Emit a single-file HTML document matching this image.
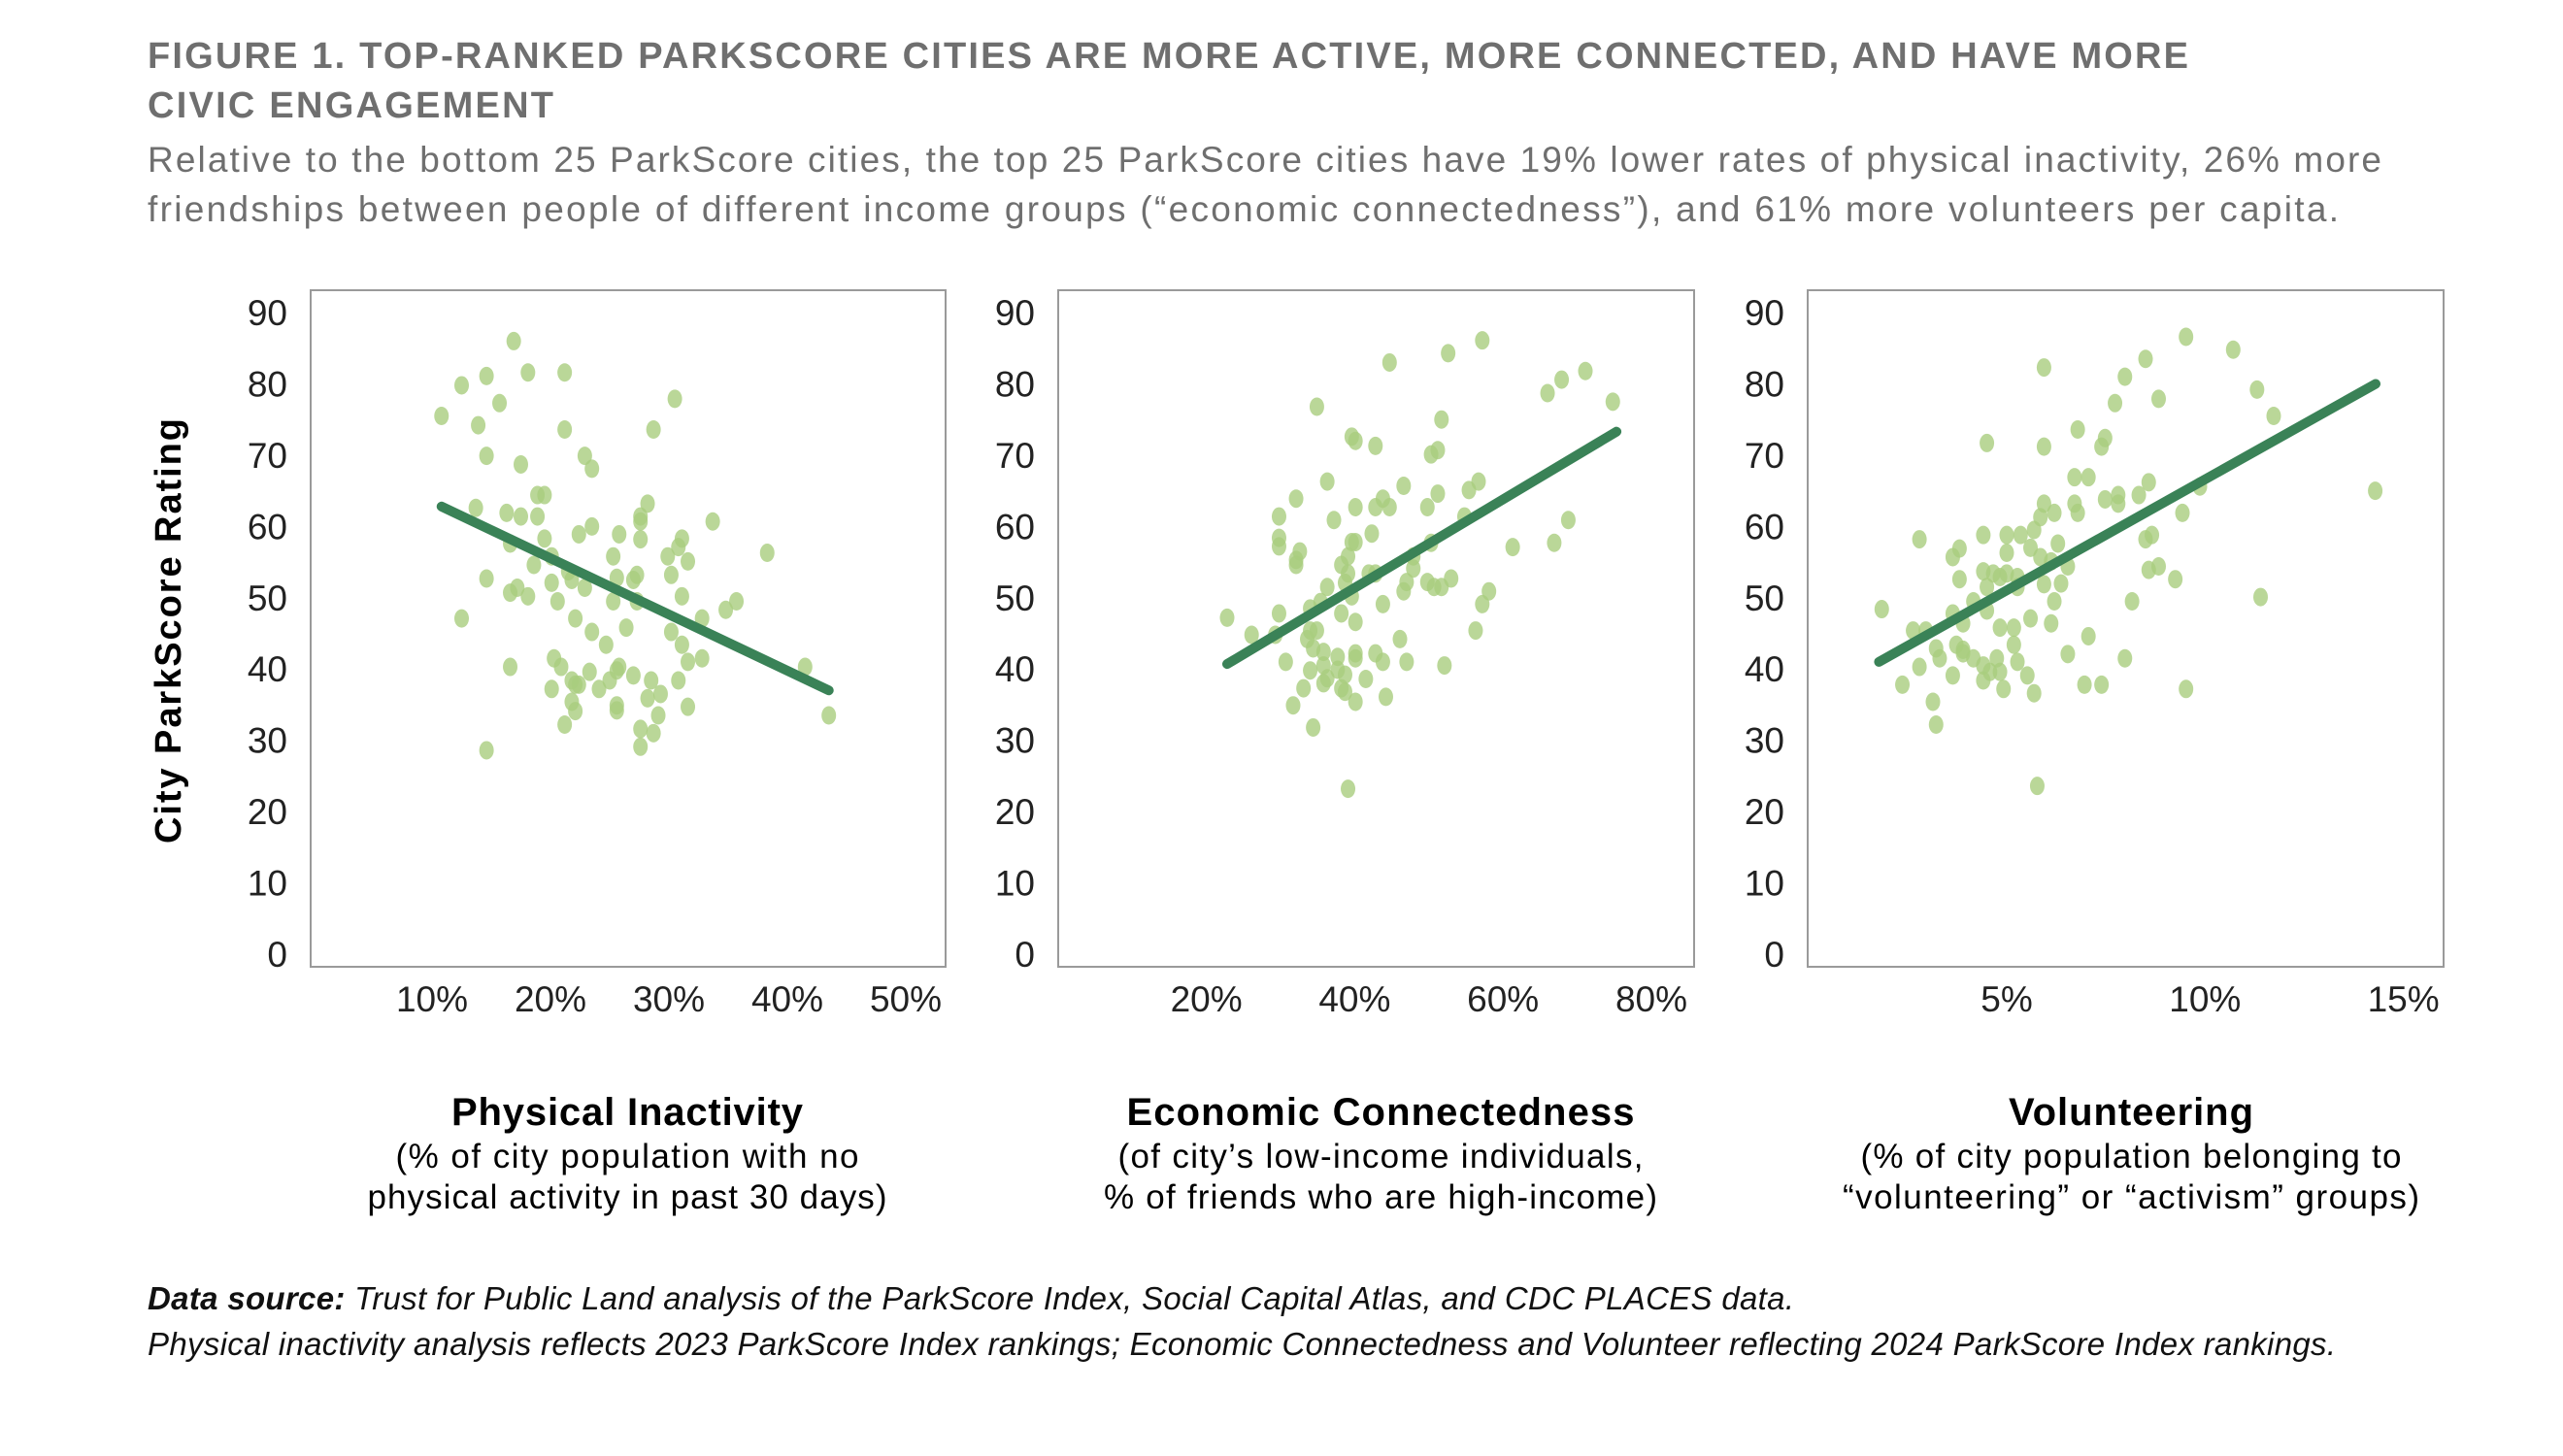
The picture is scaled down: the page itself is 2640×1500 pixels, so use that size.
<!DOCTYPE html>
<html><head><meta charset="utf-8"><style>
html,body{margin:0;padding:0;background:#fff;}
svg{display:block;font-family:"Liberation Sans",Arial,sans-serif;}
</style></head><body>
<svg id="chart" width="2640" height="1500" viewBox="0 0 2640 1500">
<g>
<text x="152" y="70" font-size="38" font-weight="bold" fill="#6f6f6f" textLength="2102">FIGURE 1. TOP-RANKED PARKSCORE CITIES ARE MORE ACTIVE, MORE CONNECTED, AND HAVE MORE</text>
<text x="152" y="121" font-size="38" font-weight="bold" fill="#6f6f6f" textLength="418">CIVIC ENGAGEMENT</text>
<text x="152" y="177" font-size="37" fill="#6f6f6f" textLength="2301">Relative to the bottom 25 ParkScore cities, the top 25 ParkScore cities have 19% lower rates of physical inactivity, 26% more</text>
<text x="152" y="228" font-size="37" fill="#6f6f6f" textLength="2257">friendships between people of different income groups (“economic connectedness”), and 61% more volunteers per capita.</text>
</g>
<text transform="translate(186,650) rotate(-90)" text-anchor="middle" font-size="38" font-weight="bold" fill="#000" textLength="438">City ParkScore Rating</text>
<g id="panels"></g>
<g>
<text x="152" y="1349" font-size="33" font-style="italic" fill="#111" textLength="1696"><tspan font-weight="bold">Data source:</tspan> Trust for Public Land analysis of the ParkScore Index, Social Capital Atlas, and CDC PLACES data.</text>
<text x="152" y="1396" font-size="33" font-style="italic" fill="#111" textLength="2254">Physical inactivity analysis reflects 2023 ParkScore Index rankings; Economic Connectedness and Volunteer reflecting 2024 ParkScore Index rankings.</text>
</g>
</svg>
<script>
// Panel 1: Physical inactivity (%)
const p1X = [10.8,12.5,14.6,16.9,18.1,21.2,15.7,13.9,21.2,30.5,28.7,14.6,17.5,22.9,23.5,18.9,19.5,13.7,16.3,17.5,18.9,28.2,27.6,27.6,23.5,22.4,25.8,27.6,19.5,16.6,33.7,31.1,30.8,29.9,25.3,31.6,38.3,20.1,18.6,21.5,21.8,22.9,25.6,27.3,27.0,30.2,20.1,17.2,16.6,18.1,20.6,25.3,27.3,31.1,35.7,34.8,14.6,12.5,22.1,32.8,26.4,23.5,30.2,31.1,24.7,20.3,20.9,16.6,31.6,32.8,41.5,25.8,25.6,23.3,27.0,21.8,22.1,22.4,25.0,28.5,30.8,20.1,24.1,28.2,29.3,21.8,22.1,25.6,25.6,31.6,29.1,21.2,27.6,28.7,27.6,14.6,43.5];
const p1Y = [75.5,79.8,81.1,86.0,81.6,81.6,77.3,74.2,73.6,77.9,73.6,69.9,68.7,69.9,68.1,64.4,64.4,62.6,61.9,61.4,61.4,63.2,61.4,60.7,60.0,58.9,58.9,58.2,58.3,57.6,60.7,58.3,57.1,55.8,55.8,55.1,56.3,55.8,54.6,53.7,52.5,51.4,52.8,53.2,52.5,53.2,52.1,51.4,50.7,50.2,49.5,49.5,49.5,50.2,49.5,48.3,52.7,47.1,47.1,47.1,45.8,45.2,45.2,43.4,43.4,41.5,40.3,40.3,41.0,41.5,40.3,40.3,39.8,39.6,39.1,38.4,37.8,37.8,38.4,38.4,38.4,37.2,37.2,35.9,36.5,35.4,34.1,34.9,34.2,34.7,33.5,32.2,31.6,31.0,29.1,28.6,33.5];
const p1Trend = [[10.8,62.8],[43.5,37.0]];
const p1Ticks = ["10%","20%","30%","40%","50%"];
const p1TickVals = [10,20,30,40,50];

// Panel 2: Economic connectedness (%)
const p2X = [22.8,26.1,29.3,29.8,29.8,29.8,32.1,32.6,32.1,32.1,34.9,36.3,37.2,36.3,34.0,35.4,29.8,30.7,33.1,31.7,34.4,33.6,34.4,34.0,34.9,35.8,35.8,36.3,35.8,34.0,37.7,37.7,38.2,38.2,38.7,39.1,39.1,39.6,40.1,39.6,40.1,40.1,39.1,39.6,40.1,40.1,40.1,38.2,38.7,38.7,40.1,41.5,42.3,41.9,42.8,42.8,42.8,43.8,44.7,44.7,43.8,42.8,43.8,44.2,46.1,47.0,46.6,47.0,47.9,47.9,46.6,49.8,50.3,51.2,51.7,51.2,49.8,50.7,51.7,53.0,52.1,50.3,52.6,54.8,55.4,56.7,57.2,56.3,57.2,58.1,61.3,66.0,67.9,71.1,74.8,66.9,68.8];
const p2Y = [47.2,44.8,44.8,61.4,58.4,57.2,63.9,56.5,55.3,54.6,76.8,66.3,60.9,51.5,48.5,49.4,47.8,41.0,37.3,34.9,31.8,44.2,42.9,45.4,45.4,42.4,40.5,38.7,38.0,39.8,41.7,39.9,47.8,54.6,52.1,53.4,55.8,57.8,57.8,72.6,72.0,62.7,23.2,50.2,46.6,42.2,41.5,37.3,39.2,36.8,35.4,38.6,59.0,53.4,53.4,62.7,71.3,63.9,62.7,83.0,49.1,42.2,41.0,36.1,44.2,41.0,50.9,52.2,54.1,55.8,65.7,62.7,70.1,70.7,75.0,64.6,52.2,51.5,51.5,52.7,40.5,57.7,84.3,61.4,65.1,66.3,86.1,45.4,49.1,50.9,57.1,78.7,80.6,81.8,77.5,57.7,60.9];
const p2Trend = [[22.8,40.7],[75.3,73.3]];
const p2Ticks = ["20%","40%","60%","80%"];
const p2TickVals = [20,40,60,80];

// Panel 3: Volunteering (%)
const p3X = [1.85,2.37,2.64,2.80,2.80,2.96,3.14,3.22,3.22,3.31,3.64,3.81,3.81,3.64,3.73,3.90,3.90,3.90,3.64,4.16,4.16,4.41,4.41,4.50,4.50,4.50,4.41,4.41,4.58,4.66,4.75,4.83,4.83,4.83,4.92,5.0,5.0,5.0,5.18,5.18,5.27,5.27,5.27,5.35,5.52,5.60,5.60,5.69,5.69,5.77,5.85,5.85,5.94,5.94,5.94,5.94,6.12,6.12,6.20,6.20,6.29,6.37,6.54,6.54,6.71,6.71,6.79,6.79,6.96,7.06,7.06,7.39,7.39,7.48,7.48,7.73,7.81,7.81,7.98,7.98,8.16,8.33,8.50,8.50,8.58,8.58,8.66,8.83,8.83,9.25,9.43,9.52,9.52,9.87,10.71,11.31,11.40,11.73,14.29];
const p3Y = [48.4,37.8,45.4,58.2,40.3,45.4,35.4,32.2,42.9,41.5,55.7,56.9,52.6,47.8,43.4,46.4,42.7,42.2,39.1,49.5,41.5,58.8,53.7,51.5,48.2,71.7,40.5,38.4,39.6,53.4,41.5,52.9,45.8,39.6,37.2,58.8,56.3,53.4,45.8,43.4,41.0,51.5,52.9,58.8,39.1,57.0,47.1,59.5,36.6,23.6,55.7,61.3,63.2,71.2,82.3,51.9,55.1,46.4,61.9,49.5,57.6,52.0,54.4,42.1,63.2,66.9,61.9,73.6,37.8,66.9,44.6,71.2,37.8,72.4,63.8,77.3,64.4,63.2,81.0,41.5,49.5,64.4,83.5,58.2,66.2,53.9,58.8,77.9,54.4,52.6,61.9,86.6,37.2,65.6,84.8,79.2,50.1,75.5,65.0];
const p3Trend = [[1.78,41.0],[14.30,80.0]];
const p3Ticks = ["5%","10%","15%"];
const p3TickVals = [5,10,15];

const yTickVals = [0,10,20,30,40,50,60,70,80,90];

const NS = "http://www.w3.org/2000/svg";
const root = document.getElementById("panels");
function yScale(v){ return 983 - v*7.344; }
function mk(tag, attrs, parent){
  const e = document.createElementNS(NS, tag);
  for (const k in attrs) e.setAttribute(k, attrs[k]);
  parent.appendChild(e);
  return e;
}
const panels = [
  {name:"physical-inactivity", left:320, right:974, x0:10, px0:445, k:12.2, xs:p1X, ys:p1Y, trend:p1Trend, ticks:p1Ticks, tv:p1TickVals, labR:296,
   title:["Physical Inactivity",362], sub:[["(% of city population with no",477],["physical activity in past 30 days)",535]], cx:646},
  {name:"economic-connectedness", left:1090, right:1745, x0:20, px0:1242.6, k:7.64, xs:p2X, ys:p2Y, trend:p2Trend, ticks:p2Ticks, tv:p2TickVals, labR:1066,
   title:["Economic Connectedness",523], sub:[["(of city’s low-income individuals,",541],["% of friends who are high-income)",570]], cx:1422},
  {name:"volunteering", left:1862, right:2517, x0:5, px0:2067, k:40.86, xs:p3X, ys:p3Y, trend:p3Trend, ticks:p3Ticks, tv:p3TickVals, labR:1838,
   title:["Volunteering",252], sub:[["(% of city population belonging to",557],["“volunteering” or “activism” groups)",594]], cx:2195}
];
panels.forEach(function(P){
  const g = mk("g", {}, root);
  
  
  const xS = function(p){ return P.px0 + (p - P.x0)*P.k; };
  const frame = mk("rect", {x:P.left, y:299, width:P.right-P.left, height:697, fill:"none", stroke:"#9a9a9a", "stroke-width":2}, g);
  
  
  yTickVals.forEach(function(v){
    const t = mk("text", {x:P.labR, y:yScale(v)+13, "font-size":37, fill:"#222", "text-anchor":"end"}, g);
    t.textContent = String(v);
    
    
  });
  P.tv.forEach(function(v, i){
    const t = mk("text", {x:xS(v), y:1042, "font-size":37, fill:"#222", "text-anchor":"middle"}, g);
    t.textContent = P.ticks[i];
    
    
  });
  P.xs.forEach(function(xv, i){
    const d = mk("ellipse", {cx:xS(xv), cy:yScale(P.ys[i]), rx:7.5, ry:9.5, fill:"#a9cd7e", "fill-opacity":0.8}, g);
    
    
  });
  const ln = mk("line", {x1:xS(P.trend[0][0]), y1:yScale(P.trend[0][1]), x2:xS(P.trend[1][0]), y2:yScale(P.trend[1][1]), stroke:"#3a8257", "stroke-width":10, "stroke-linecap":"round"}, g);
  
  
  const tt = mk("text", {x:P.cx, y:1159, "font-size":40, "font-weight":"bold", fill:"#000", "text-anchor":"middle", textLength:P.title[1]}, g);
  tt.textContent = P.title[0];
  
  
  P.sub.forEach(function(s, i){
    const st = mk("text", {x:P.cx, y:1203 + i*42, "font-size":35, fill:"#000", "text-anchor":"middle", textLength:s[1]}, g);
    st.textContent = s[0];
    
    
  });
});
</script>
</body></html>
